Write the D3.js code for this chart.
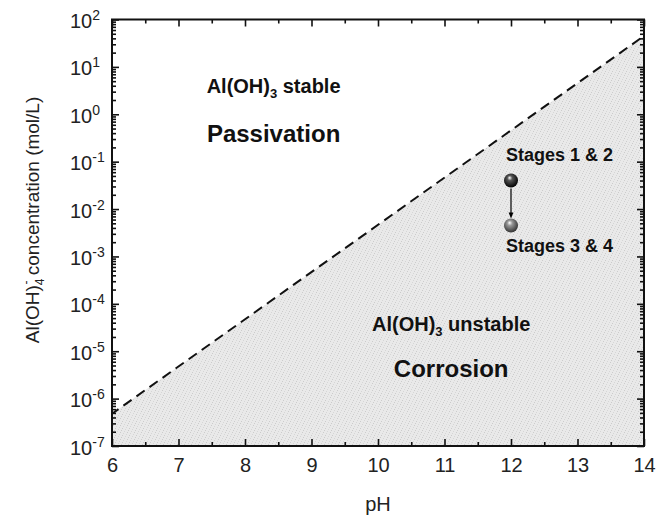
<!DOCTYPE html>
<html>
<head>
<meta charset="utf-8">
<script src="https://cdn.jsdelivr.net/npm/d3@7"></script>
<style>
  body { margin: 0; background: #fff; }
  svg { display: block; font-family: "Liberation Sans", Arial, sans-serif; }
</style>
</head>
<body>
<div id="root"></div>
<script>
const width = 662
const height = 521
const margin = { top: 19.5, right: 18, bottom: 75, left: 112 }

// data
const phDomain = [6, 14]
const concDomain = [1e-7, 1e2]
const phMajor = [6, 7, 8, 9, 10, 11, 12, 13, 14]
const phMinor = [6.5, 7.5, 8.5, 9.5, 10.5, 11.5, 12.5, 13.5]
const concExponents = [-7, -6, -5, -4, -3, -2, -1, 0, 1, 2]
const boundaryPH = [6, 14]
const boundaryConc = [4.8e-7, 45]
const stagePH = [12, 12]
const stageConc = [0.04, 0.0045]
const stageLabels = ['Stages 1 & 2', 'Stages 3 & 4']

const svg = d3.select('#root').append('svg').attr('width', width).attr('height', height)

const x = d3.scaleLinear().domain(phDomain).range([margin.left, width - margin.right])
const y = d3.scaleLog().domain(concDomain).range([height - margin.bottom, margin.top])

const defs = svg.append('defs')

// stipple texture for the corrosion region
const pat = defs.append('pattern')
  .attr('id', 'stipple')
  .attr('patternUnits', 'userSpaceOnUse')
  .attr('width', 7).attr('height', 7)
pat.append('rect').attr('width', 7).attr('height', 7).attr('fill', '#e9e9e9')
const dots = [[0, 0], [3, 1], [5, 4], [1, 5], [6, 2], [2, 3], [4, 6]]
pat.selectAll('rect.d').data(dots).join('rect')
  .attr('class', 'd')
  .attr('x', (d) => d[0]).attr('y', (d) => d[1])
  .attr('width', 1).attr('height', 1)
  .attr('fill', (d, i) => (i % 2 ? '#cccccc' : '#d6d6d6'))

function sphereGradient(id, light, dark) {
  const g = defs.append('radialGradient').attr('id', id)
    .attr('cx', '45%').attr('cy', '40%').attr('r', '60%')
    .attr('fx', '40%').attr('fy', '30%')
  g.append('stop').attr('offset', '0%').attr('stop-color', '#fff')
  g.append('stop').attr('offset', '30%').attr('stop-color', light)
  g.append('stop').attr('offset', '100%').attr('stop-color', dark)
}
sphereGradient('ball1', '#555', '#000')
sphereGradient('ball2', '#999', '#333')

defs.append('marker')
  .attr('id', 'arrow')
  .attr('viewBox', '-5 -5 10 10')
  .attr('markerWidth', 5).attr('markerHeight', 5)
  .attr('markerUnits', 'strokeWidth')
  .attr('orient', 'auto')
  .append('path').attr('d', 'M -5,-4 L 5,0 L -5,4 Z').attr('fill', '#000')

// shaded region below the boundary line
const area = [
  [boundaryPH[0], concDomain[0]],
  [boundaryPH[0], boundaryConc[0]],
  [boundaryPH[1], boundaryConc[1]],
  [boundaryPH[1], concDomain[0]],
]
svg.append('path')
  .attr('d', d3.line().x((d) => x(d[0])).y((d) => y(d[1]))(area) + 'Z')
  .attr('fill', 'url(#stipple)')

// boundary dashed line
svg.append('path')
  .datum(d3.zip(boundaryPH, boundaryConc))
  .attr('d', d3.line().x((d) => x(d[0])).y((d) => y(d[1])))
  .attr('fill', 'none')
  .attr('stroke', '#111')
  .attr('stroke-width', 2)
  .attr('stroke-dasharray', '10,6')
  .attr('stroke-dashoffset', -14)

// axes
const majorConc = concExponents.map((e) => Math.pow(10, e))
const minorConc = []
concExponents.slice(0, -1).forEach((e) => {
  for (let k = 2; k <= 9; k++) minorConc.push(k * Math.pow(10, e))
})

const plotBottom = y.range()[0]
const plotTop = y.range()[1]
const plotLeft = x.range()[0]
const plotRight = x.range()[1]

const axisStyle = (g) => {
  g.select('.domain').remove()
  g.selectAll('line').attr('stroke', '#111').attr('stroke-width', 1.6)
}

svg.append('g').attr('transform', `translate(0,${plotBottom})`)
  .call(d3.axisBottom(x).tickValues(phMajor).tickSizeInner(-7).tickPadding(12).tickFormat(d3.format('d')))
  .call(axisStyle)
  .call((g) => g.selectAll('text').attr('font-size', 20).attr('fill', '#222'))
  .attr('font-family', null)
svg.append('g').attr('transform', `translate(0,${plotBottom})`)
  .call(d3.axisBottom(x).tickValues(phMinor).tickSizeInner(-4).tickFormat(''))
  .call(axisStyle)
svg.append('g').attr('transform', `translate(0,${plotTop})`)
  .call(d3.axisTop(x).tickValues(phMajor).tickSizeInner(-7).tickFormat(''))
  .call(axisStyle)
svg.append('g').attr('transform', `translate(0,${plotTop})`)
  .call(d3.axisTop(x).tickValues(phMinor).tickSizeInner(-4).tickFormat(''))
  .call(axisStyle)

const yLeft = svg.append('g').attr('transform', `translate(${plotLeft},0)`)
  .call(d3.axisLeft(y).tickValues(majorConc).tickSizeInner(-7).tickFormat(''))
  .call(axisStyle)
  .attr('font-family', null)
svg.append('g').attr('transform', `translate(${plotLeft},0)`)
  .call(d3.axisLeft(y).tickValues(minorConc).tickSizeInner(-4).tickFormat(''))
  .call(axisStyle)
svg.append('g').attr('transform', `translate(${plotRight},0)`)
  .call(d3.axisRight(y).tickValues(majorConc).tickSizeInner(-7).tickFormat(''))
  .call(axisStyle)
svg.append('g').attr('transform', `translate(${plotRight},0)`)
  .call(d3.axisRight(y).tickValues(minorConc).tickSizeInner(-4).tickFormat(''))
  .call(axisStyle)

// y tick labels with superscript exponents
yLeft.selectAll('.tick').each(function (d) {
  const t = d3.select(this).select('text')
    .attr('x', -42).attr('dy', null).attr('y', 8)
    .attr('text-anchor', 'start')
    .attr('font-size', 20).attr('fill', '#222')
  t.append('tspan').text('10')
  t.append('tspan').attr('font-size', 14).attr('dy', -8).text(Math.round(Math.log10(d)))
})

// frame
svg.append('rect')
  .attr('x', plotLeft).attr('y', plotTop)
  .attr('width', plotRight - plotLeft).attr('height', plotBottom - plotTop)
  .attr('fill', 'none').attr('stroke', '#111').attr('stroke-width', 2)

// axis titles
svg.append('text')
  .attr('x', (plotLeft + plotRight) / 2).attr('y', 511)
  .attr('text-anchor', 'middle').attr('font-size', 20).attr('fill', '#222')
  .text('pH')

const yt = svg.append('text')
  .attr('transform', 'translate(39,220) rotate(-90)')
  .attr('text-anchor', 'middle').attr('font-size', 19).attr('fill', '#222')
yt.append('tspan').text('Al(OH)')
yt.append('tspan').attr('font-size', 12).attr('dy', 5).text('4')
yt.append('tspan').attr('font-size', 12).attr('dx', -6).attr('dy', -14).text('-')
yt.append('tspan').attr('dy', 9).text(' concentration (mol/L)')

// region labels
function chemLabel(px, py, rest) {
  const t = svg.append('text')
    .attr('x', px).attr('y', py)
    .attr('text-anchor', 'middle').attr('font-size', 20).attr('font-weight', 'bold').attr('fill', '#111')
  t.append('tspan').text('Al(OH)')
  t.append('tspan').attr('font-size', 13).attr('dy', 5).text('3')
  t.append('tspan').attr('dy', -5).text(' ' + rest)
}
chemLabel(x(8.43), 93, 'stable')
chemLabel(x(11.1), 331, 'unstable')

svg.append('text')
  .attr('x', x(8.43)).attr('y', 142)
  .attr('text-anchor', 'middle').attr('font-size', 24).attr('font-weight', 'bold').attr('fill', '#111')
  .text('Passivation')
svg.append('text')
  .attr('x', x(11.1)).attr('y', 377)
  .attr('text-anchor', 'middle').attr('font-size', 24).attr('font-weight', 'bold').attr('fill', '#111')
  .text('Corrosion')

// stages
svg.append('line')
  .attr('x1', x(stagePH[0])).attr('y1', y(stageConc[0]) + 8)
  .attr('x2', x(stagePH[1])).attr('y2', y(stageConc[1]) - 10)
  .attr('stroke', '#000').attr('stroke-width', 1.2)
  .attr('marker-end', 'url(#arrow)')

svg.selectAll('circle.stage')
  .data(d3.zip(stagePH, stageConc))
  .join('circle')
  .attr('class', 'stage')
  .attr('cx', (d) => x(d[0])).attr('cy', (d) => y(d[1]))
  .attr('r', 7)
  .attr('fill', (d, i) => `url(#ball${i + 1})`)

svg.selectAll('text.stage')
  .data(stageLabels)
  .join('text')
  .attr('class', 'stage')
  .attr('x', 506)
  .attr('y', (d, i) => (i === 0 ? 161 : 252))
  .attr('font-size', 18).attr('font-weight', 'bold').attr('fill', '#111')
  .text((d) => d)
</script>
</body>
</html>
